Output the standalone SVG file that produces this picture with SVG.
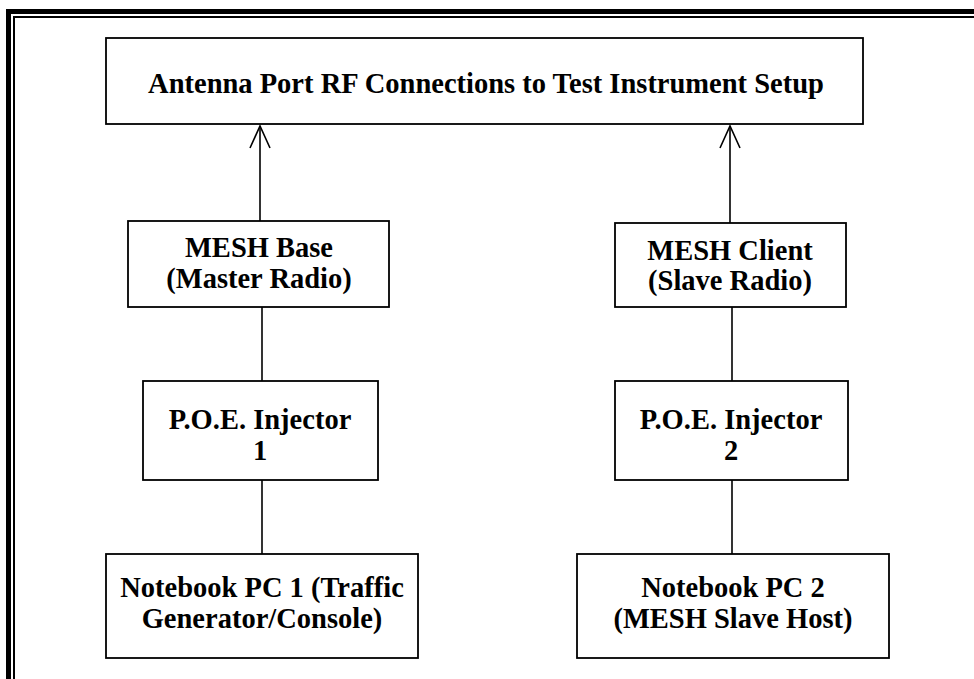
<svg xmlns="http://www.w3.org/2000/svg" width="974" height="679" viewBox="0 0 974 679">
<style>
  .box { fill: #ffffff; stroke: #000000; stroke-width: 1.8; }
  .lbl { font-family: "Liberation Serif", "Times New Roman", serif; font-weight: bold; font-size: 28.5px; fill: #000000; text-anchor: middle; }
  .conn { stroke: #000000; stroke-width: 1.6; fill: none; }
</style>
<defs>
  <marker id="open" markerUnits="userSpaceOnUse" viewBox="-24 -12 26 24" markerWidth="26" markerHeight="24" refX="0" refY="0" orient="auto" overflow="visible">
    <path d="M-22,-10 L0,0 L-22,10" fill="none" stroke="#000000" stroke-width="1.6"/>
  </marker>
</defs>
<rect x="0" y="0" width="974" height="679" fill="#ffffff"/>
<g id="frame">
  <path d="M8.5,679 V11.5 H974" fill="none" stroke="#000000" stroke-width="5"/>
  <path d="M14,679 V17 H974" fill="none" stroke="#000000" stroke-width="2"/>
</g>
<g id="connectors">
  <line class="conn" x1="260" y1="221" x2="260" y2="126" marker-end="url(#open)"/>
  <line class="conn" x1="730" y1="223" x2="730" y2="126" marker-end="url(#open)"/>
  <line class="conn" x1="262" y1="307" x2="262" y2="381"/>
  <line class="conn" x1="732" y1="307" x2="732" y2="381"/>
  <line class="conn" x1="262" y1="480" x2="262" y2="554"/>
  <line class="conn" x1="732" y1="480" x2="732" y2="554"/>
</g>
<g id="node-antenna">
  <rect class="box" x="106" y="38" width="757" height="86"/>
  <text class="lbl" x="486" y="93">Antenna Port RF Connections to Test Instrument Setup</text>
</g>
<g id="node-mesh-base">
  <rect class="box" x="128" y="221" width="261" height="86"/>
  <text class="lbl" x="259" y="257">MESH Base</text>
  <text class="lbl" x="259" y="288">(Master Radio)</text>
</g>
<g id="node-mesh-client">
  <rect class="box" x="615" y="223" width="231" height="84"/>
  <text class="lbl" x="730" y="260">MESH Client</text>
  <text class="lbl" x="730" y="290">(Slave Radio)</text>
</g>
<g id="node-poe1">
  <rect class="box" x="143" y="381" width="235" height="99"/>
  <text class="lbl" x="260" y="429">P.O.E. Injector</text>
  <text class="lbl" x="260" y="460">1</text>
</g>
<g id="node-poe2">
  <rect class="box" x="615" y="381" width="233" height="99"/>
  <text class="lbl" x="731" y="429">P.O.E. Injector</text>
  <text class="lbl" x="731" y="460">2</text>
</g>
<g id="node-pc1">
  <rect class="box" x="106" y="554" width="312" height="104"/>
  <text class="lbl" x="262" y="597">Notebook PC 1 (Traffic</text>
  <text class="lbl" x="262" y="628">Generator/Console)</text>
</g>
<g id="node-pc2">
  <rect class="box" x="577" y="554" width="312" height="104"/>
  <text class="lbl" x="733" y="597">Notebook PC 2</text>
  <text class="lbl" x="733" y="628">(MESH Slave Host)</text>
</g>
</svg>
